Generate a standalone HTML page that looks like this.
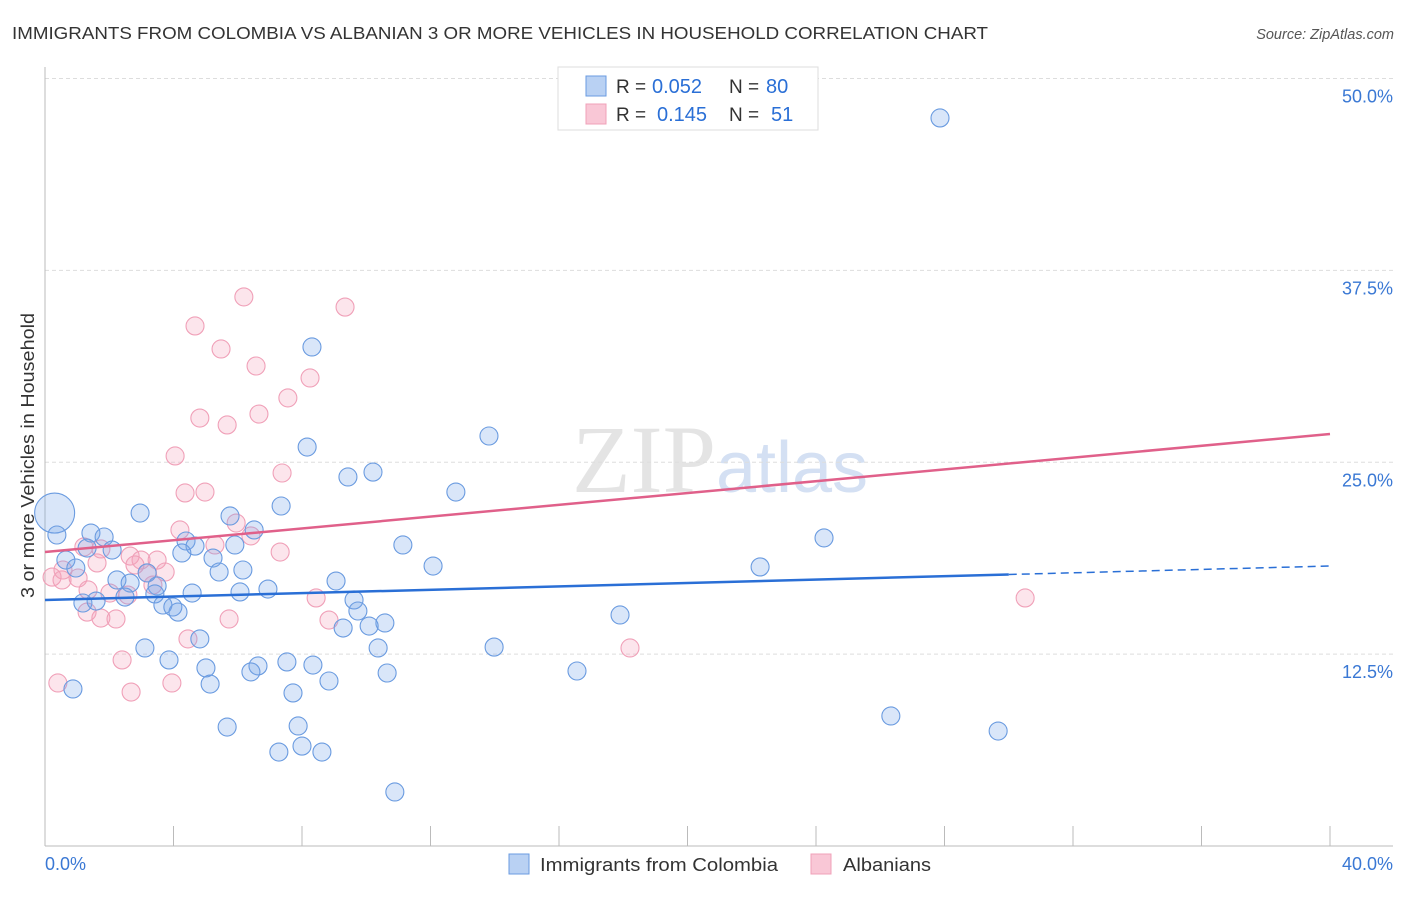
<!DOCTYPE html>
<html><head><meta charset="utf-8"><style>
body{margin:0;background:#fff;font-family:"Liberation Sans",sans-serif;}
svg text{font-family:"Liberation Sans",sans-serif;}
</style></head><body>
<svg id="c" width="1406" height="892">
<text x="12" y="39" font-size="17.5" fill="#333" textLength="976" lengthAdjust="spacingAndGlyphs">IMMIGRANTS FROM COLOMBIA VS ALBANIAN 3 OR MORE VEHICLES IN HOUSEHOLD CORRELATION CHART</text>
<text x="1394" y="39" font-size="14.5" fill="#555" font-style="italic" text-anchor="end">Source: ZipAtlas.com</text>
<text x="720" y="492" font-size="96" fill="#e4e4e4" text-anchor="middle" font-family="Liberation Serif"><tspan font-family="Liberation Serif">ZIP</tspan><tspan font-size="72" fill="#d4e0f3" font-family="Liberation Sans">atlas</tspan></text>
<text transform="translate(34,598) rotate(-90)" font-size="18" fill="#333" textLength="285" lengthAdjust="spacingAndGlyphs">3 or more Vehicles in Household</text>
<g id="grid"></g><g id="pts"></g><g id="lines"></g>
<g>
<rect x="558" y="67" width="260" height="63" fill="#fff" stroke="#ddd"/>
<rect x="586" y="76" width="20" height="20" fill="#b9d1f3" stroke="#6a9be0"/>
<rect x="586" y="104" width="20" height="20" fill="#f9c7d6" stroke="#f0a0b8"/>
<text x="616" y="93" font-size="19" fill="#333">R =</text>
<text x="652" y="93" font-size="20" fill="#2a6fd6">0.052</text>
<text x="729" y="93" font-size="19" fill="#333">N =</text>
<text x="766" y="93" font-size="20" fill="#2a6fd6">80</text>
<text x="616" y="121" font-size="19" fill="#333">R =</text>
<text x="657" y="121" font-size="20" fill="#2a6fd6">0.145</text>
<text x="729" y="121" font-size="19" fill="#333">N =</text>
<text x="771" y="121" font-size="20" fill="#2a6fd6">51</text>
</g>
<g>
<rect x="509" y="854" width="20" height="20" fill="#b9d1f3" stroke="#6a9be0"/>
<text x="540" y="871" font-size="18.5" fill="#333" textLength="238" lengthAdjust="spacingAndGlyphs">Immigrants from Colombia</text>
<rect x="811" y="854" width="20" height="20" fill="#f9c7d6" stroke="#f0a0b8"/>
<text x="843" y="871" font-size="18.5" fill="#333" textLength="88" lengthAdjust="spacingAndGlyphs">Albanians</text>
</g>
</svg>
<script>
const yTicks=[12.5,25.0,37.5,50.0];
const xTickVals=[0,4,8,12,16,20,24,28,32,36,40];
const blueX=[27.86,8.31,8.16,13.82,9.43,10.21,12.79,7.35,2.96,5.76,6.51,1.43,1.84,5.91,4.39,4.67,4.26,5.23,11.14,24.25,0.3,1.31,2.09,0.65,0.96,22.26,12.08,5.42,6.16,3.18,2.24,2.65,3.49,9.06,6.94,6.07,2.49,3.42,4.58,9.62,1.18,1.59,3.67,4.14,3.98,9.74,17.9,10.58,9.28,10.09,3.11,13.98,10.37,4.82,3.86,5.01,7.53,8.34,6.63,6.41,16.56,10.65,8.84,5.14,0.87,7.72,26.33,5.67,7.88,29.67,8.0,7.28,8.62,10.89,0.37];
const blueY=[47.43,32.51,25.99,26.71,24.04,24.36,23.06,22.15,21.69,21.5,20.59,20.39,20.13,19.61,19.87,19.54,19.09,18.76,19.61,20.07,21.69,19.41,19.28,18.63,18.11,18.18,18.24,17.85,17.98,17.79,17.33,17.13,16.94,17.26,16.74,16.55,16.22,16.42,16.48,16.03,15.83,15.96,15.7,15.24,15.57,15.31,15.05,14.53,14.2,14.33,12.9,12.96,12.9,13.49,12.12,11.6,11.99,11.79,11.73,11.34,11.4,11.27,10.75,10.55,10.23,9.97,8.47,7.75,7.82,7.49,6.51,6.12,6.12,3.52,20.26];
const pinkX=[6.19,9.34,4.67,5.48,6.57,8.25,7.56,4.82,6.66,5.67,4.05,7.38,4.36,4.98,4.2,5.95,6.41,5.29,7.32,1.62,2.65,2.99,3.49,2.8,3.18,0.22,0.53,1.03,0.56,3.74,3.36,1.34,2.02,2.58,8.44,30.51,1.31,1.74,2.21,5.73,8.84,4.45,18.21,2.4,0.4,2.68,3.95,1.21,1.74];
const pinkY=[35.77,35.11,33.88,32.38,31.27,30.49,29.19,27.88,28.14,27.43,25.41,24.3,23.0,23.06,20.59,21.04,20.2,19.61,19.15,18.44,18.89,18.63,18.63,18.31,17.79,17.52,17.33,17.46,17.98,17.85,17.0,16.68,16.48,16.35,16.16,16.16,15.24,14.85,14.79,14.79,14.72,13.49,12.9,12.12,10.62,10.03,10.62,19.48,19.35];
const blueTrend=[16.03,18.24], pinkTrend=[19.15,26.84], blueSolidEnd=30;
const NS='http://www.w3.org/2000/svg';
const sx=v=>45+v*32.125, sy=v=>846-v*15.35;
function mk(t,a,p){const e=document.createElementNS(NS,t);for(const k in a)e.setAttribute(k,a[k]);p.appendChild(e);return e;}
const grid=document.getElementById('grid');
yTicks.forEach(t=>{
 const l=mk('line',{x1:45,x2:1393,y1:sy(t),y2:sy(t),stroke:'#ddd','stroke-dasharray':'4,3'},grid);
 
 
 const tx=mk('text',{x:1393,y:sy(t)+24,'font-size':18,fill:'#3a78d4','text-anchor':'end'},grid);
 tx.textContent=t.toFixed(1)+'%';
 
 
});
mk('line',{x1:45,x2:45,y1:67,y2:846,stroke:'#bbb'},grid);
mk('line',{x1:45,x2:1393,y1:846,y2:846,stroke:'#bbb'},grid);
xTickVals.forEach(t=>{
 const l=mk('line',{x1:sx(t),x2:sx(t),y1:826,y2:846,stroke:'#bbb'},grid);
 
 
});
const xl=mk('text',{x:45,y:870,'font-size':18,fill:'#3a78d4'},grid);xl.textContent='0.0%';


const xr=mk('text',{x:1393,y:870,'font-size':18,fill:'#3a78d4','text-anchor':'end'},grid);xr.textContent='40.0%';


const pts=document.getElementById('pts');
function draw(X,Y,fill,stroke,name){X.forEach((x,i)=>{
 const big=(name==='colombia-point'&&i===20);
 const c=mk('circle',{cx:sx(x),cy:sy(Y[i]),r:big?20:9,fill:fill,stroke:stroke,'stroke-width':1.1},pts);
 
 
});}
draw(pinkX,pinkY,'rgba(244,160,188,0.28)','#f0a0b8','albanian-point');
draw(blueX,blueY,'rgba(120,165,235,0.28)','#6a9be0','colombia-point');
const L=document.getElementById('lines');
const bAt=x=>blueTrend[0]+(blueTrend[1]-blueTrend[0])*x/40;
const b1=mk('line',{x1:sx(0),y1:sy(bAt(0)),x2:sx(blueSolidEnd),y2:sy(bAt(blueSolidEnd)),stroke:'#2a6fd6','stroke-width':2.5},L);


const b2=mk('line',{x1:sx(blueSolidEnd),y1:sy(bAt(blueSolidEnd)),x2:sx(40),y2:sy(bAt(40)),stroke:'#2a6fd6','stroke-width':1.5,'stroke-dasharray':'8,5'},L);


const p1=mk('line',{x1:sx(0),y1:sy(pinkTrend[0]),x2:sx(40),y2:sy(pinkTrend[1]),stroke:'#e0608a','stroke-width':2.5},L);


</script>
</body></html>
